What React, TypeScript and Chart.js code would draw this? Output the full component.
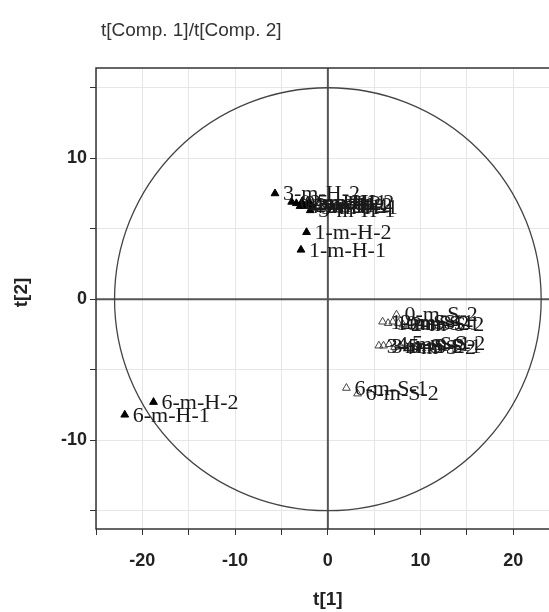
import React, { useEffect, useRef } from 'react';
import { Chart, registerables } from 'chart.js';

Chart.register(...registerables);

// Scores t[1] / t[2] for the "H" samples (filled triangles)
const hNames = ['3-m-H-2', '0-m-H-1', '0-m-H-2', '4-m-H-2', '2-m-H-1', '4-m-H-1', '2-m-H-2', '5-m-H-2', '3-m-H-1', '5-m-H-1', '1-m-H-2', '1-m-H-1', '6-m-H-2', '6-m-H-1'];
const hT1 = [-5.7, -3.9, -3.4, -3.0, -2.8, -2.5, -2.2, -2.0, -1.9, -1.6, -2.3, -2.9, -18.8, -21.9];
const hT2 = [7.5, 6.9, 6.8, 6.6, 6.9, 6.6, 6.7, 6.9, 6.3, 6.5, 4.75, 3.5, -7.3, -8.2];

// Scores t[1] / t[2] for the "S" samples (open triangles)
const sNames = ['0-m-S-2', '1-m-S-1', '1-m-S-2', '2-m-S-1', '0-m-S-1', '2-m-S-2', '3-m-S-1', '3-m-S-2', '4-m-S-1', '4-m-S-2', '5-m-S-1', '5-m-S-2', '6-m-S-1', '6-m-S-2'];
const sT1 = [7.4, 5.9, 6.5, 7.0, 7.6, 8.1, 5.5, 6.0, 6.6, 7.2, 7.8, 8.2, 2.0, 3.2];
const sT2 = [-1.1, -1.6, -1.7, -1.6, -1.7, -1.8, -3.3, -3.3, -3.2, -3.4, -3.3, -3.1, -6.3, -6.7];

// Hotelling ellipse semi-axes (data units)
const ellipseRx = [23];
const ellipseRy = [15];

const titleText = 't[Comp. 1]/t[Comp. 2]';
const xTitle = 't[1]';
const yTitle = 't[2]';

const decor = {
  id: 'decor',
  beforeDatasetsDraw(chart: any) {
    const { ctx, chartArea: a, scales } = chart;
    const xs = scales.x, ys = scales.y;
    ctx.save();
    ctx.beginPath();
    ctx.rect(a.left, a.top, a.right - a.left, a.bottom - a.top);
    ctx.clip();
    ctx.strokeStyle = '#555';
    ctx.lineWidth = 2;
    const x0 = xs.getPixelForValue(0), y0 = ys.getPixelForValue(0);
    ctx.beginPath();
    ctx.moveTo(x0, a.top); ctx.lineTo(x0, a.bottom);
    ctx.moveTo(a.left, y0); ctx.lineTo(a.right, y0);
    ctx.stroke();
    const rx = Math.abs(xs.getPixelForValue(ellipseRx[0]) - x0);
    const ry = Math.abs(ys.getPixelForValue(ellipseRy[0]) - y0);
    ctx.strokeStyle = '#444';
    ctx.lineWidth = 1.3;
    ctx.beginPath();
    ctx.ellipse(x0, y0, rx, ry, 0, 0, Math.PI * 2);
    ctx.stroke();
    ctx.restore();
    ctx.save();
    ctx.strokeStyle = '#333';
    ctx.lineWidth = 1.5;
    ctx.strokeRect(a.left, a.top, a.right - a.left, a.bottom - a.top);
    ctx.restore();
  },
  afterDatasetsDraw(chart: any) {
    const { ctx } = chart;
    ctx.save();
    ctx.font = '22px "Liberation Serif"';
    ctx.fillStyle = '#1a1a1a';
    ctx.textBaseline = 'middle';
    ctx.textAlign = 'left';
    const names = [hNames, sNames];
    names.forEach((arr, di) => {
      const meta = chart.getDatasetMeta(di);
      meta.data.forEach((pt: any, i: number) => {
        ctx.fillText(arr[i], pt.x + 8, pt.y + 1);
      });
    });
    ctx.restore();
  },
  afterDraw(chart: any) {
    const { ctx, chartArea: a, scales } = chart;
    ctx.save();
    ctx.fillStyle = '#333';
    ctx.font = '19px "Liberation Sans"';
    ctx.textBaseline = 'middle';
    ctx.textAlign = 'left';
    ctx.fillText(titleText, 101, 31);
    ctx.fillStyle = '#222';
    ctx.font = 'bold 19px "Liberation Sans"';
    ctx.textAlign = 'center';
    ctx.fillText(xTitle, scales.x.getPixelForValue(0), 600);
    ctx.translate(22, (a.top + a.bottom) / 2 - 6);
    ctx.rotate(-Math.PI / 2);
    ctx.fillText(yTitle, 0, 0);
    ctx.restore();
  },
};

export default function App() {
  const ref = useRef<HTMLCanvasElement>(null);
  useEffect(() => {
    if (!ref.current) return;
    const tickFont = { family: '"Liberation Sans"', size: 18, weight: 'bold' as const };
    const chart = new Chart(ref.current, {
      type: 'scatter',
      data: {
        datasets: [
          {
            label: 'H',
            data: hT1.map((x, i) => ({ x, y: hT2[i] })),
            pointStyle: 'triangle',
            pointRadius: 4.5,
            backgroundColor: '#000',
            borderColor: '#000',
            borderWidth: 1,
          },
          {
            label: 'S',
            data: sT1.map((x, i) => ({ x, y: sT2[i] })),
            pointStyle: 'triangle',
            pointRadius: 4.5,
            backgroundColor: 'rgba(255,255,255,0)',
            borderColor: '#444',
            borderWidth: 1,
          },
        ],
      },
      options: {
        responsive: false,
        animation: false,
        devicePixelRatio: 1,
        layout: { padding: { top: 68, left: 0, right: 6, bottom: 0 } },
        plugins: { legend: { display: false }, tooltip: { enabled: false }, title: { display: false } },
        scales: {
          x: {
            type: 'linear',
            min: -25,
            max: 26,
            afterFit: (s: any) => { s.height = 83; },
            border: { display: false },
            grid: { color: '#e6e6e6', tickColor: '#333', tickLength: 6, lineWidth: 1 },
            ticks: {
              stepSize: 5,
              includeBounds: false,
              autoSkip: false,
              maxRotation: 0,
              padding: 15,
              font: tickFont,
              color: '#222',
              callback: (v: any) => (Number(v) % 10 === 0 ? String(v) : ''),
            },
          },
          y: {
            type: 'linear',
            min: -16.3,
            max: 16.4,
            afterFit: (s: any) => { s.width = 96; },
            border: { display: false },
            grid: { color: '#e6e6e6', tickColor: '#333', tickLength: 6, lineWidth: 1 },
            ticks: {
              stepSize: 5,
              includeBounds: false,
              autoSkip: false,
              padding: 3,
              font: tickFont,
              color: '#222',
              callback: (v: any) => (Number(v) % 10 === 0 ? String(v) : ''),
            },
          },
        },
      },
      plugins: [decor],
    });
    return () => chart.destroy();
  }, []);
  return (
    <div style={{ position: 'fixed', left: 0, top: 0, width: 549, height: 612, overflow: 'hidden', background: '#fff' }}>
      <canvas ref={ref} width={575} height={612} style={{ display: 'block', width: 575, height: 612 }} />
    </div>
  );
}
